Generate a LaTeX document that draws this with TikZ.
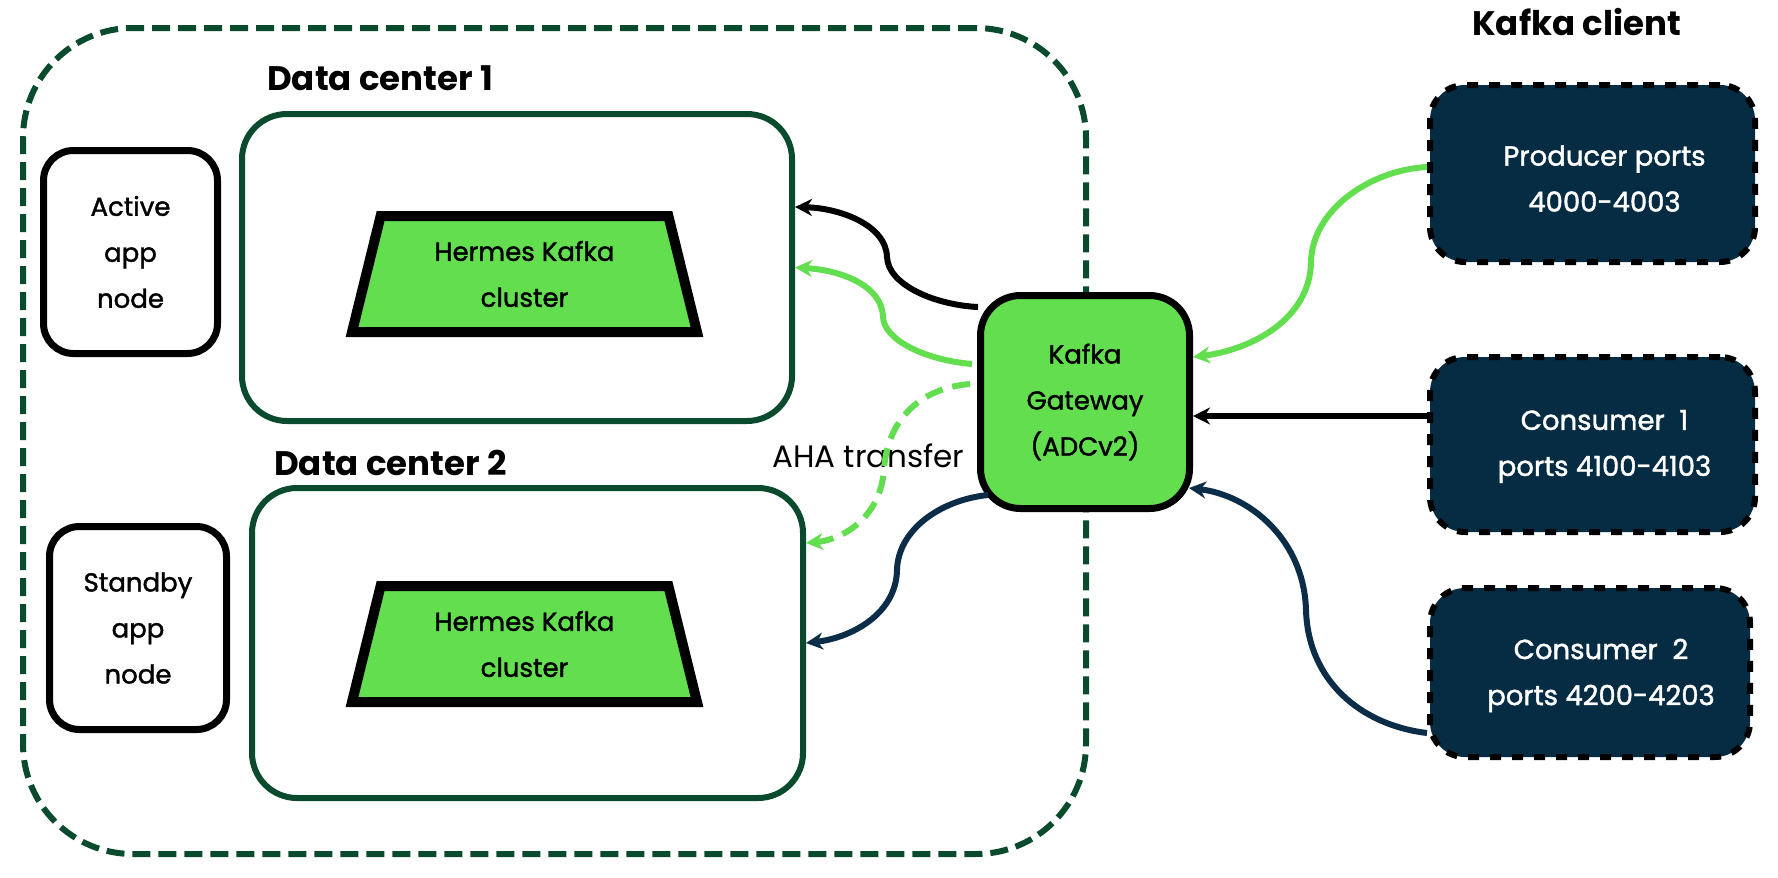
\documentclass[tikz,border=0pt]{standalone}
\usepackage{fontspec}
\setmainfont{Poppins}
\newfontfamily\boxfamily{Poppins}[FakeBold=1.5]
\usetikzlibrary{shapes.geometric,arrows.meta,calc}
\definecolor{dkgreen}{HTML}{0A4B2D}
\definecolor{kgreen}{HTML}{63DE4F}
\definecolor{navy}{HTML}{062C43}
\definecolor{navyline}{HTML}{0B2D48}
\begin{document}
\begin{tikzpicture}[x=1pt,y=-1pt,
  boxfont/.style={font=\boxfamily\fontsize{26}{46}\selectfont},
  dcbox/.style={draw=dkgreen, line width=6pt, rounded corners=45pt, fill=white},
  appbox/.style={draw=black, line width=7pt, rounded corners=30pt, align=center, boxfont},
  trapbox/.style={trapezium, trapezium stretches=true, draw=black, fill=kgreen, line width=10pt,
    trapezium left angle=75.7, trapezium right angle=75.7, minimum width=345pt, minimum height=116pt,
    align=center, boxfont},
  gwbox/.style={draw=black, fill=kgreen, line width=7pt, rounded corners=40pt, align=center, boxfont},
  clientbox/.style={draw=black, fill=navy, line width=6pt, dash pattern=on 11pt off 11pt,
    rounded corners=35pt},
  clienttext/.style={text=white, align=center, font=\boxfamily\fontsize{27.5}{46}\selectfont},
  titletext/.style={anchor=base west, inner sep=0pt, font=\bfseries\fontsize{34}{40}\selectfont},
  arr/.style={line width=6pt, -{Stealth[length=17pt,width=17pt]}}
]
\useasboundingbox (0,0) rectangle (1778,878);

% outer container
\node[draw=dkgreen, line width=6pt, dash pattern=on 18pt off 8pt, rounded corners=110pt,
  minimum width=1063pt, minimum height=826pt, inner sep=0pt] (outer) at (554.5,441) {};

% data centers
\node[dcbox, minimum width=550pt, minimum height=307pt] (dc1) at (517,267.5) {};
\node[dcbox, minimum width=551pt, minimum height=310pt] (dc2) at (527.5,643) {};

\node[titletext] (t1) at (267,90) {Data center 1};
\node[titletext] (t2) at (274,475) {Data center 2};
\node[titletext] (t3) at (1472,35) {Kafka client};

% app nodes
\node[appbox, minimum width=174pt, minimum height=203pt] (active) at (130.5,252) {Active\\app\\node};
\node[appbox, minimum width=177pt, minimum height=203pt] (standby) at (138,628) {Standby\\app\\node};

% kafka clusters
\node[trapbox] (k1) at (524.5,274) {Hermes Kafka\\cluster};
\node[trapbox] (k2) at (524.5,644) {Hermes Kafka\\cluster};

% gateway
\node[gwbox, minimum width=209pt, minimum height=213pt] (gw) at (1085,402) {Kafka\\Gateway\\(ADCv2)};

% clients
\node[clientbox, minimum width=325pt, minimum height=177pt] (prod) at (1592.5,173.5) {};
\node[clientbox, minimum width=325pt, minimum height=175pt] (c1) at (1592.5,444.5) {};
\node[clientbox, minimum width=320pt, minimum height=169pt] (c2) at (1590,672.5) {};
\node[clienttext] (prodtxt) at ($(prod.center)+(12,5)$) {Producer ports\\4000-4003};
\node[clienttext] (c1txt) at ($(c1.center)+(12,2)$) {Consumer~ 1\\ports 4100-4103};
\node[clienttext] (c2txt) at ($(c2.center)+(11,3)$) {Consumer~ 2\\ports 4200-4203};

% AHA label
\node[anchor=base west, inner sep=0pt, font=\fontsize{31}{36}\selectfont] (aha) at (772,467) {AHA transfer};

% connectors gateway -> data centers
\draw[arr, black] ($(gw.west)+(1,-95)$) .. controls (935,305) and (888,285) .. (887,257)
  .. controls (886,225) and (840,208) .. ($(dc1.east)+(0,-60.5)$);
\draw[arr, kgreen] ($(gw.west)+(-5,-38)$) .. controls (925,360) and (884,340) .. (883,317)
  .. controls (882,285) and (840,270) .. (dc1.east);
\draw[arr, kgreen, dash pattern=on 18pt off 10pt] ($(gw.west)+(-7,-18)$) .. controls (920,388) and (887,420) .. (884,470)
  .. controls (880,520) and (840,540) .. ($(dc2.east)+(0,-100)$);
\draw[arr, navyline] ($(gw.south west)+(11,-17)$) .. controls (940,500) and (898,530) .. (897,570)
  .. controls (896,615) and (850,638) .. (dc2.east);

% connectors clients -> gateway
\draw[arr, kgreen] ($(prod.west)+(0,-6.5)$) .. controls (1370,170) and (1312,210) .. (1311,262)
  .. controls (1310,320) and (1250,350) .. ($(gw.east)+(0,-45)$);
\draw[arr, black] ($(c1.west)+(0,-28.5)$) -- ($(gw.east)+(0,14)$);
\draw[arr, navyline] ($(c2.west)+(0,60.5)$) .. controls (1360,725) and (1308,680) .. (1306,610)
  .. controls (1304,540) and (1250,495) .. ($(gw.east)+(-4,86)$);
\end{tikzpicture}
\end{document}
